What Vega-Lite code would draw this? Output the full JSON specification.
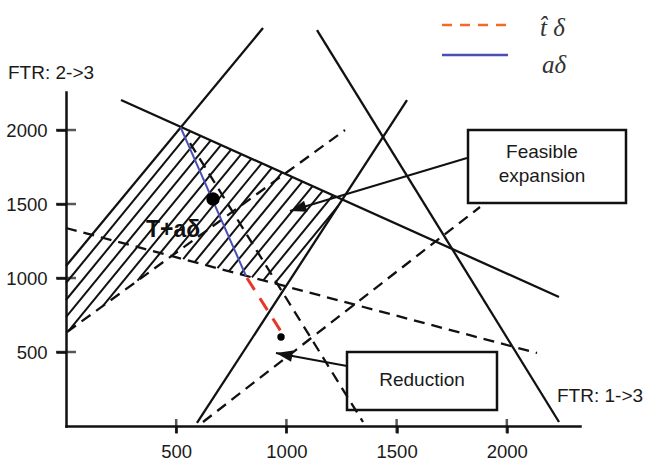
{
  "$schema": "https://vega.github.io/schema/vega-lite/v6.json",
  "width": 514,
  "height": 334,
  "autosize": {"type": "none"},
  "padding": {"left": 66, "top": 92, "right": 67, "bottom": 39},
  "background": "white",
  "config": {"view": {"stroke": null}, "font": "Liberation Sans"},
  "encoding": {
    "x": {"field": "x", "type": "quantitative",
      "scale": {"domain": [0, 2332], "nice": false, "zero": false},
      "axis": {"values": [500, 1000, 1500, 2000], "format": "d", "title": null, "grid": false,
        "domainColor": "#111", "domainWidth": 2.5, "domainCap": "square",
        "tickColor": "#111", "tickWidth": 2.5, "tickSize": 7,
        "labelFont": "Liberation Sans", "labelFontSize": 18.5, "labelColor": "#1a1a1a",
        "labelPadding": 9, "labelFlush": false, "labelOverlap": false}},
    "y": {"field": "y", "type": "quantitative",
      "scale": {"domain": [0, 2257], "nice": false, "zero": false},
      "axis": {"values": [500, 1000, 1500, 2000], "format": "d", "title": null, "grid": false,
        "domainColor": "#111", "domainWidth": 2.5, "domainCap": "square",
        "tickColor": "#111", "tickWidth": 2.5, "tickSize": 10,
        "labelFont": "Liberation Sans", "labelFontSize": 18.5, "labelColor": "#1a1a1a",
        "labelPadding": 9, "labelFlush": false, "labelOverlap": false}}
  },
  "layer": [
    {
      "data": {"values": [
        {"x": 564.4, "y": 1992.0, "x2": 0, "y2": 966.3},
        {"x": 610.7, "y": 1960.9, "x2": 0, "y2": 851.4},
        {"x": 657.0, "y": 1929.8, "x2": 0, "y2": 736.5},
        {"x": 702.8, "y": 1898.7, "x2": 11.8, "y2": 643.3},
        {"x": 749.1, "y": 1867.6, "x2": 167.9, "y2": 812.2},
        {"x": 795.3, "y": 1837.2, "x2": 324.4, "y2": 981.8},
        {"x": 841.6, "y": 1806.2, "x2": 480.9, "y2": 1148.7},
        {"x": 887.9, "y": 1775.1, "x2": 531.7, "y2": 1128.4},
        {"x": 933.7, "y": 1744.0, "x2": 583.5, "y2": 1107.5},
        {"x": 980.0, "y": 1712.9, "x2": 635.6, "y2": 1087.2},
        {"x": 1026.3, "y": 1682.5, "x2": 687.4, "y2": 1066.9},
        {"x": 1072.5, "y": 1651.4, "x2": 739.5, "y2": 1046.0},
        {"x": 1118.8, "y": 1620.3, "x2": 791.3, "y2": 1025.7},
        {"x": 1164.6, "y": 1589.2, "x2": 843.4, "y2": 1004.8},
        {"x": 1210.9, "y": 1558.2, "x2": 895.1, "y2": 984.5},
        {"x": 1234.1, "y": 1485.2, "x2": 946.9, "y2": 964.2}
      ]},
      "mark": {"type": "rule", "color": "#111", "strokeWidth": 2},
      "encoding": {"x2": {"field": "x2"}, "y2": {"field": "y2"}}
    },
    {
      "data": {"values": [
        {"x": 893.8, "y": 2689.3, "x2": 0, "y2": 1081.1},
        {"x": 249.5, "y": 2202.8, "x2": 2236.7, "y2": 871.7},
        {"x": 1138.8, "y": 2675.8, "x2": 2236.7, "y2": 27.0},
        {"x": 594.3, "y": 20.3, "x2": 1547.1, "y2": 2202.8}
      ]},
      "mark": {"type": "rule", "color": "#111", "strokeWidth": 2.3},
      "encoding": {"x2": {"field": "x2"}, "y2": {"field": "y2"}}
    },
    {
      "data": {"values": [
        {"x": 0, "y": 1337.9, "x2": 2136.9, "y2": 493.3},
        {"x": 4.5, "y": 635.2, "x2": 1265.8, "y2": 2000.1},
        {"x": 621.6, "y": 27.0, "x2": 1878.3, "y2": 1479.8},
        {"x": 562.6, "y": 1912.2, "x2": 1347.5, "y2": 27.0}
      ]},
      "mark": {"type": "rule", "color": "#111", "strokeWidth": 2.3, "strokeDash": [11, 7]},
      "encoding": {"x2": {"field": "x2"}, "y2": {"field": "y2"}}
    },
    {
      "data": {"values": [{"x": 519.5, "y": 2020.3, "x2": 816.7, "y2": 1013.6}]},
      "mark": {"type": "rule", "color": "#4a4fb5", "strokeWidth": 2},
      "encoding": {"x2": {"field": "x2"}, "y2": {"field": "y2"}}
    },
    {
      "data": {"values": [{"x": 821.2, "y": 1000.0, "x2": 980.0, "y2": 628.4}]},
      "mark": {"type": "rule", "color": "#e8372a", "strokeWidth": 3, "strokeDash": [14, 10]},
      "encoding": {"x2": {"field": "x2"}, "y2": {"field": "y2"}}
    },
    {
      "data": {"values": [{"x": 500, "y": 0}, {"x": 1000, "y": 0}, {"x": 1500, "y": 0}, {"x": 2000, "y": 0}]},
      "mark": {"type": "tick", "orient": "vertical", "color": "#111", "size": 14, "thickness": 2.5}
    },
    {
      "data": {"values": [{"x": 0, "y": 500}, {"x": 0, "y": 1000}, {"x": 0, "y": 1500}, {"x": 0, "y": 2000}]},
      "mark": {"type": "tick", "orient": "horizontal", "color": "#111", "size": 20, "thickness": 2.5}
    },
    {
      "data": {"values": [{"x": 667.0, "y": 1533.8}]},
      "mark": {"type": "circle", "color": "#000", "size": 180, "opacity": 1}
    },
    {
      "data": {"values": [{"x": 975.5, "y": 601.4}]},
      "mark": {"type": "circle", "color": "#000", "size": 55, "opacity": 1}
    },
    {
      "data": {"values": [
        {"x": 1819.3, "y": 1810.9, "x2": 1016.3, "y2": 1452.8},
        {"x": 1274.9, "y": 405.4, "x2": 952.8, "y2": 493.3}
      ]},
      "mark": {"type": "rule", "color": "#111", "strokeWidth": 2},
      "encoding": {"x2": {"field": "x2"}, "y2": {"field": "y2"}}
    },
    {
      "data": {"values": [{"x": 1016.3, "y": 1452.8}]},
      "mark": {"type": "point", "shape": "M0,0L0.9,2.6L-0.9,2.6Z", "filled": true, "size": 160, "angle": 253, "color": "#111", "opacity": 1}
    },
    {
      "data": {"values": [{"x": 952.8, "y": 493.3}]},
      "mark": {"type": "point", "shape": "M0,0L0.9,2.6L-0.9,2.6Z", "filled": true, "size": 160, "angle": 281, "color": "#111", "opacity": 1}
    },
    {
      "data": {"values": [
        {"x": 1823.9, "y": 2000.1, "x2": 2540.7, "y2": 1506.8},
        {"x": 1274.9, "y": 500.0, "x2": 1955.4, "y2": 108.1}
      ]},
      "mark": {"type": "rect", "fill": "transparent", "stroke": "#111", "strokeWidth": 2.5},
      "encoding": {"x2": {"field": "x2"}, "y2": {"field": "y2"}}
    },
    {
      "data": {"values": [
        {"x": 2159.6, "y": 1851.4, "label": "Feasible"},
        {"x": 2159.6, "y": 1689.3, "label": "expansion"},
        {"x": 1615.2, "y": 310.8, "label": "Reduction"}
      ]},
      "mark": {"type": "text", "align": "center", "baseline": "middle", "font": "Liberation Sans", "fontSize": 19, "color": "#1a1a1a"},
      "encoding": {"text": {"field": "label"}}
    },
    {
      "data": {"values": [
        {"x": -263.1, "y": 2385.2, "label": "FTR: 2->3"},
        {"x": 2227.7, "y": 202.7, "label": "FTR: 1->3"}
      ]},
      "mark": {"type": "text", "align": "left", "baseline": "middle", "font": "Liberation Sans", "fontSize": 19, "color": "#1a1a1a"},
      "encoding": {"text": {"field": "label"}}
    },
    {
      "data": {"values": [{"x": 485.5, "y": 1324.4, "label": "T+aδ"}]},
      "mark": {"type": "text", "align": "center", "baseline": "middle", "font": "Liberation Sans", "fontWeight": "bold", "fontSize": 23, "color": "#111"},
      "encoding": {"text": {"field": "label"}}
    },
    {
      "data": {"values": [{"x": 1705.9, "y": 2709.6, "x2": 2005.4, "y2": 2709.6}]},
      "mark": {"type": "rule", "color": "#f26b2d", "strokeWidth": 2.5, "strokeDash": [10, 8]},
      "encoding": {"x2": {"field": "x2"}, "y2": {"field": "y2"}}
    },
    {
      "data": {"values": [{"x": 1705.9, "y": 2506.8, "x2": 2005.4, "y2": 2506.8}]},
      "mark": {"type": "rule", "color": "#4a4fb5", "strokeWidth": 2.5},
      "encoding": {"x2": {"field": "x2"}, "y2": {"field": "y2"}}
    },
    {
      "data": {"values": [
        {"x": 2150.5, "y": 2689.3, "label": "t̂ δ"},
        {"x": 2159.6, "y": 2439.3, "label": "aδ"}
      ]},
      "mark": {"type": "text", "align": "left", "baseline": "middle", "font": "Liberation Serif", "fontStyle": "italic", "fontSize": 25, "color": "#333"},
      "encoding": {"text": {"field": "label"}}
    }
  ]
}
